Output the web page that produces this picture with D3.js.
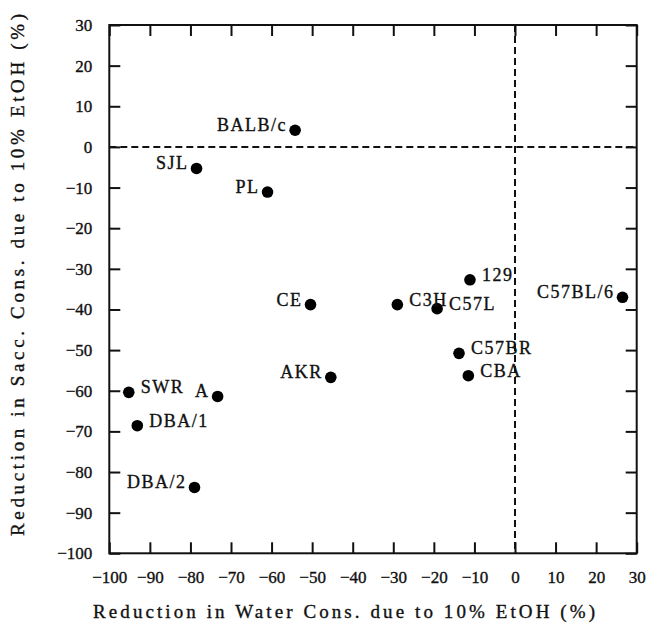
<!DOCTYPE html>
<html>
<head>
<meta charset="utf-8">
<script src="https://cdn.jsdelivr.net/npm/d3@7"></script>
<style>
  html, body { margin: 0; padding: 0; background: #fff; }
  svg { display: block; }
  text { font-family: "Liberation Serif", "DejaVu Serif", serif; fill: #111; stroke: #111; stroke-width: 0.35px; }
</style>
</head>
<body>
<svg id="chart" width="661" height="633"></svg>
<script>
// ---- data ----
const strains = ["BALB/c", "SJL", "PL", "CE", "C3H", "C57L", "129", "C57BL/6", "C57BR", "CBA", "AKR", "SWR", "A", "DBA/1", "DBA/2"];
const waterReduction = [-54.2, -78.5, -61.0, -50.4, -29.0, -19.2, -11.1, 26.5, -13.8, -11.5, -45.4, -95.2, -73.3, -93.1, -79.0];
const saccReduction  = [4.1, -5.3, -11.1, -38.8, -38.8, -39.8, -32.7, -37.0, -50.8, -56.3, -56.7, -60.4, -61.4, -68.6, -83.8];
const labelSide = ["left", "left", "left", "left", "right", "right", "right", "left", "right", "right", "left", "right", "left", "right", "left"];
const xTicks = [-100, -90, -80, -70, -60, -50, -40, -30, -20, -10, 0, 10, 20, 30];
const yTicks = [30, 20, 10, 0, -10, -20, -30, -40, -50, -60, -70, -80, -90, -100];
const xTitle = "Reduction in Water Cons. due to 10% EtOH (%)";
const yTitle = "Reduction in Sacc. Cons. due to 10% EtOH (%)";

// ---- layout ----
const svg = d3.select("#chart");
const pLeft = 109.3, pRight = 636.7, pTop = 25, pBottom = 553.3;
const x = d3.scaleLinear().domain([-100, 30]).range([pLeft, pRight]);
const y = d3.scaleLinear().domain([-100, 30]).range([pBottom, pTop]);
const tickLen = 11;
const fmt = d => d < 0 ? "\u2212" + Math.abs(d) : String(d);

// frame
svg.append("rect")
  .attr("x", pLeft).attr("y", pTop)
  .attr("width", pRight - pLeft).attr("height", pBottom - pTop)
  .attr("fill", "none").attr("stroke", "#111").attr("stroke-width", 2);

// axes with inward ticks
const axisStyle = g => {
  g.select(".domain").remove();
  g.selectAll(".tick line").attr("stroke", "#111").attr("stroke-width", 2);
  g.selectAll(".tick text")
    .style("font-family", '"Liberation Serif", "DejaVu Serif", serif')
    .style("font-size", "17px").attr("fill", "#111");
};

svg.append("g").attr("transform", `translate(0,${pBottom})`)
  .call(d3.axisBottom(x).tickValues(xTicks).tickSize(-tickLen).tickPadding(18).tickFormat(fmt))
  .call(axisStyle);

svg.append("g").attr("transform", `translate(0,${pTop})`)
  .call(d3.axisTop(x).tickValues(xTicks).tickSize(-tickLen).tickFormat(""))
  .call(axisStyle);

svg.append("g").attr("transform", `translate(${pLeft},0)`)
  .call(d3.axisLeft(y).tickValues(yTicks).tickSize(-tickLen).tickPadding(17).tickFormat(fmt))
  .call(axisStyle);

svg.append("g").attr("transform", `translate(${pRight},0)`)
  .call(d3.axisRight(y).tickValues(yTicks).tickSize(-tickLen).tickFormat(""))
  .call(axisStyle);

// dashed zero lines
svg.append("line")
  .attr("x1", pLeft).attr("x2", pRight).attr("y1", y(0)).attr("y2", y(0))
  .attr("stroke", "#111").attr("stroke-width", 2).attr("stroke-dasharray", "7,4");
svg.append("line")
  .attr("x1", x(0)).attr("x2", x(0)).attr("y1", pTop).attr("y2", pBottom)
  .attr("stroke", "#111").attr("stroke-width", 2).attr("stroke-dasharray", "7,4");

// points
const pts = strains.map((s, i) => ({ name: s, wx: waterReduction[i], sy: saccReduction[i], side: labelSide[i] }));
svg.append("g").selectAll("circle").data(pts).join("circle")
  .attr("cx", d => x(d.wx)).attr("cy", d => y(d.sy)).attr("r", 5.8).attr("fill", "#000");

svg.append("g").selectAll("text").data(pts).join("text")
  .attr("x", d => x(d.wx) + (d.side === "left" ? -8 : 12))
  .attr("y", d => y(d.sy) + 1)
  .attr("text-anchor", d => d.side === "left" ? "end" : "start")
  .style("font-size", "18px").style("letter-spacing", "1.5px")
  .text(d => d.name);

// titles
svg.append("text")
  .attr("x", 344).attr("y", 618)
  .attr("text-anchor", "middle")
  .attr("textLength", 502).attr("lengthAdjust", "spacing")
  .style("font-size", "19px")
  .text(xTitle);

svg.append("text")
  .attr("transform", `translate(24,275) rotate(-90)`)
  .attr("text-anchor", "middle")
  .attr("textLength", 522).attr("lengthAdjust", "spacing")
  .style("font-size", "19px")
  .text(yTitle);
</script>
</body>
</html>
